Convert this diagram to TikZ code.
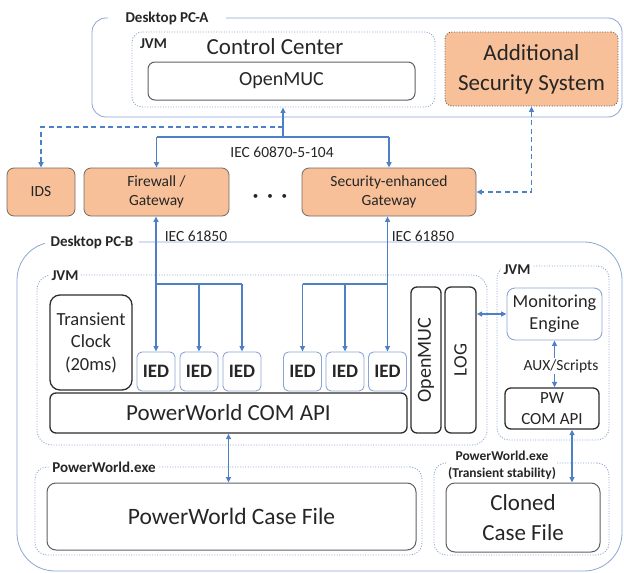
\documentclass[tikz,border=0pt]{standalone}
\usepackage{fontspec}
\setmainfont{Carlito}
\usetikzlibrary{arrows.meta,calc}
\definecolor{connC}{RGB}{78,128,200}
\definecolor{frameC}{RGB}{140,165,210}
\definecolor{blkC}{RGB}{45,45,45}
\definecolor{grayC}{RGB}{95,95,95}
\definecolor{orC}{RGB}{247,192,152}
\definecolor{orD}{RGB}{115,105,98}
\definecolor{txtC}{RGB}{38,38,38}
\newcommand\fs[2]{\fontsize{#1}{#2}\selectfont}
\begin{document}
\begin{tikzpicture}[x=1pt,y=-1pt,
  >={Triangle[length=5.5pt,width=5pt]},
  every node/.style={text=txtC},
  frame/.style={draw=frameC, line width=0.8pt, inner sep=0pt},
  dotbox/.style={draw=frameC, line width=0.9pt, dash pattern=on 1pt off 1.6pt, rounded corners=10pt, inner sep=0pt},
  blk/.style={draw=blkC, line width=1.3pt, rounded corners=6pt, inner sep=0pt, align=center},
  gbox/.style={draw=grayC, line width=1pt, rounded corners=9pt, inner sep=0pt, align=center},
  obox/.style={fill=orC, draw=orD, line width=0.8pt, rounded corners=7pt, inner sep=0pt, align=center, font=\fs{15.5}{19}},
  iedbox/.style={draw=frameC, line width=0.9pt, rounded corners=5pt, inner sep=0pt, minimum width=38pt, minimum height=39pt, font=\bfseries\fs{19}{19}},
  lbl/.style={font=\bfseries\fs{15}{17}, inner sep=1pt},
  conn/.style={draw=connC, line width=1.3pt},
  dconn/.style={draw=connC, line width=1.3pt, dash pattern=on 5pt off 3.5pt},
  plain/.style={font=\fs{15.5}{18}, inner sep=1pt}
]
\useasboundingbox (0,0) rectangle (624,573);

% ---------------- Desktop PC-A
\node[frame, rounded corners=14pt, minimum width=530pt, minimum height=99pt] (pca) at (357,67.5) {};
\node[lbl, fill=white, inner xsep=18pt] (pcalbl) at (167,18) {Desktop PC-A};
\node[dotbox, minimum width=303pt, minimum height=75pt] (ccjvm) at (283.5,69.5) {};
\node[lbl] (ccjvmlbl) at (153.5,44) {JVM};
\node[font=\fs{23}{23}, inner sep=0pt] (cctext) at (275,47) {Control Center};
\node[gbox, rounded corners=7pt, minimum width=267pt, minimum height=38pt, font=\fs{20}{20}] (omA) at (281.5,81) {OpenMUC};
\node[obox, draw=grayC, dash pattern=on 1pt off 1.6pt, line width=0.9pt, minimum width=173pt, minimum height=74pt, font=\fs{23}{30}] (add) at (531.5,69) {Additional\\Security System};

% ---------------- security boxes
\node[obox, minimum width=68pt, minimum height=48pt] (ids) at (41,192) {IDS};
\node[obox, minimum width=145pt, minimum height=48pt] (fw) at (156.5,192) {Firewall /\\Gateway};
\node[obox, minimum width=174pt, minimum height=48pt] (gw) at (389,192) {Security-enhanced\\Gateway};
\node[font=\fs{11}{11}, inner sep=0pt] (dots) at (270,197) {•\hspace{9pt}•\hspace{9pt}•};

% ---------------- Desktop PC-B
\node[frame, rounded corners=38pt, minimum width=605pt, minimum height=329pt] (pcb) at (319.5,406.5) {};
\node[lbl, fill=white, inner xsep=6pt] (pcblbl) at (92,242) {Desktop PC-B};

\node[dotbox, rounded corners=15pt, minimum width=450pt, minimum height=170pt] (jvm) at (262,360) {};
\node[lbl, fill=white, inner xsep=3pt] (jvmlbl) at (65,276) {JVM};

\node[blk, rounded corners=10pt, minimum width=82pt, minimum height=95pt, font=\fs{18.5}{22.5}] (clock) at (91,342.5) {Transient\\Clock\\(20ms)};

\node[iedbox] (ied1) at (156,371.5) {IED};
\node[iedbox] (ied2) at (199,371.5) {IED};
\node[iedbox] (ied3) at (242,371.5) {IED};
\node[iedbox] (ied4) at (302.5,371.5) {IED};
\node[iedbox] (ied5) at (345,371.5) {IED};
\node[iedbox] (ied6) at (387.5,371.5) {IED};

\node[blk, minimum width=357pt, minimum height=40pt, font=\fs{23}{23}] (pwapi) at (228.5,413) {PowerWorld COM API};
\node[blk, rotate=90, minimum width=146pt, minimum height=30pt, font=\fs{20}{20}] (omB) at (426,360) {OpenMUC};
\node[blk, rotate=90, minimum width=146pt, minimum height=31pt, font=\fs{19}{19}] (log) at (460.5,360) {LOG};

\node[dotbox, rounded corners=12pt, minimum width=112pt, minimum height=174pt] (jvm2) at (553,353) {};
\node[lbl, fill=white, inner xsep=3pt] (jvm2lbl) at (517,270) {JVM};
\node[draw=frameC, line width=0.9pt, rounded corners=8pt, inner sep=0pt, align=center, minimum width=95pt, minimum height=52pt, font=\fs{18.3}{22}] (mon) at (554.5,314) {Monitoring\\Engine};
\node[blk, minimum width=94pt, minimum height=41pt, font=\fs{17}{21}] (pwcom) at (552,408.5) {PW\\COM API};

\node[dotbox, rounded corners=12pt, minimum width=387pt, minimum height=88pt] (pwexe) at (228.5,511) {};
\node[lbl, fill=white, inner xsep=3pt] (pwexelbl) at (104,467) {PowerWorld.exe};
\node[gbox, minimum width=369pt, minimum height=67pt, font=\fs{23.5}{23.5}] (casefile) at (231.5,516.5) {PowerWorld Case File};

\node[dotbox, rounded corners=12pt, minimum width=175pt, minimum height=92pt] (pwexe2) at (521.5,509) {};
\node[lbl, fill=white, align=center, font=\bfseries\fs{13.5}{17}] (pwexe2lbl) at (502,465.5) {PowerWorld.exe\\(Transient stability)};
\node[gbox, minimum width=154pt, minimum height=69pt, font=\fs{23}{30}] (cloned) at (523,517.5) {Cloned\\Case File};

% ---------------- connectors
\coordinate (bus) at (283,137);
\coordinate (idsbend) at (283,127);
\draw[conn] (fw.north |- bus) -- (gw.north |- bus);
\draw[conn,->] (bus) -- (bus |- ccjvm.south);
\draw[conn,->] (fw.north |- bus) -- (fw.north);
\draw[conn,->] (gw.north |- bus) -- (gw.north);
\draw[dconn,->] (idsbend) -| (ids.north);
\draw[dconn,<->] (add.south) |- (gw.east);

\node[plain] (iec104) at (282,152) {IEC 60870-5-104};
\node[plain] (iec1) at (196,236) {IEC 61850};
\node[plain] (iec2) at (423,236) {IEC 61850};

\coordinate (lbus) at (156,284);
\coordinate (rbus) at (387.5,284);
\draw[conn,<->] (ied1.north |- fw.south) -- (ied1.north);
\draw[conn] (lbus) -- (ied3.north |- lbus);
\draw[conn,->] (ied2.north |- lbus) -- (ied2.north);
\draw[conn,->] (ied3.north |- lbus) -- (ied3.north);
\draw[conn,<->] (gw.south -| ied6.north) -- (ied6.north);
\draw[conn] (rbus) -- (ied4.north |- rbus);
\draw[conn,->] (ied4.north |- rbus) -- (ied4.north);
\draw[conn,->] (ied5.north |- rbus) -- (ied5.north);

\draw[conn,<->] (log.south |- mon.west) -- (mon.west);
\draw[conn,<->] (mon.south) -- (mon.south |- pwcom.north);
\node[plain, fill=white] (aux) at (561,366) {AUX/Scripts};
\draw[conn,<->] (pwapi.south) -- (pwapi.south |- casefile.north);
\draw[conn,<->] ([xshift=20pt]pwcom.south) -- ([xshift=20pt]pwcom.south |- cloned.north);
\end{tikzpicture}
\end{document}
